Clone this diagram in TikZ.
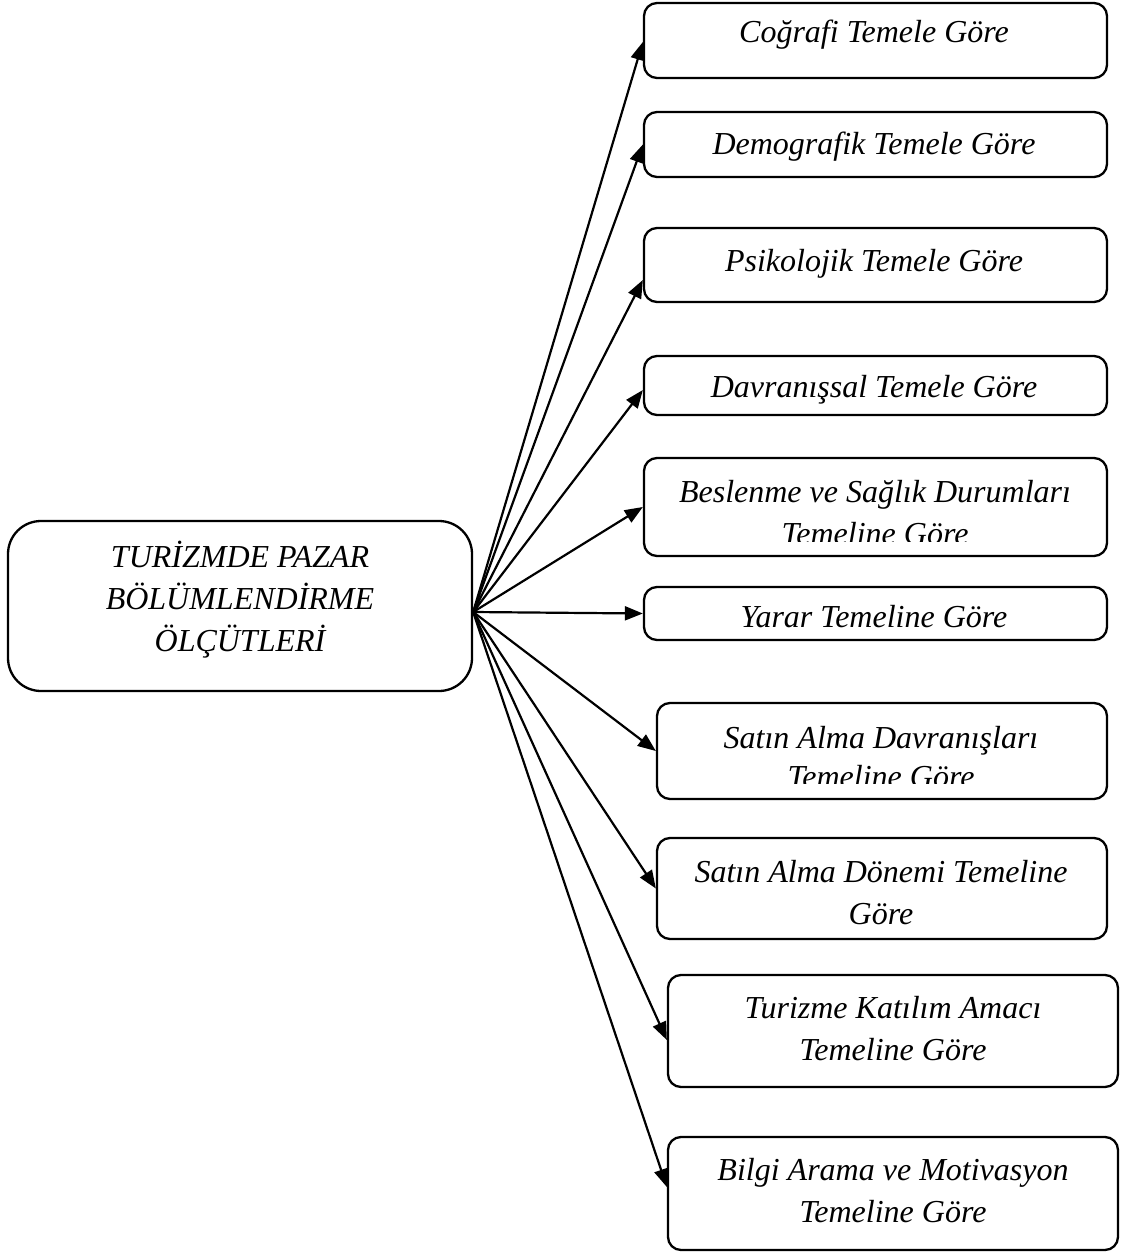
\documentclass[tikz,border=0pt]{standalone}
\usepackage{fontspec}
\setmainfont{Liberation Serif}
\usetikzlibrary{arrows.meta}
\begin{document}
\begin{tikzpicture}[x=0.5pt,y=-0.5pt,
  crit/.style={draw, line width=1.15pt, rounded corners=6.5pt, inner sep=0pt},
  rootbox/.style={draw, line width=1.15pt, rounded corners=16.5pt, inner sep=0pt,
    minimum width=232pt, minimum height=85pt},
  lbl/.style={anchor=base, inner sep=0pt,
    font=\fontsize{16}{21}\selectfont\itshape},
  link/.style={line width=1.1pt, -{Triangle[length=9pt,width=7pt]}}]
\useasboundingbox (0,0) rectangle (1122,1252);

% root box
\node[rootbox] (root) at (240,606) {};
\node[lbl] (rootlbl) at (240,567)
  {\begin{tabular}[t]{@{}c@{}}TURİZMDE PAZAR\\ BÖLÜMLENDİRME\\ ÖLÇÜTLERİ\end{tabular}};
\coordinate (hub) at ([yshift=-3pt]root.east);

% criterion boxes
\node[crit, minimum width=231.5pt, minimum height=37.5pt] (b1) at (875.5,40.5) {};
\node[crit, minimum width=231.5pt, minimum height=32.5pt] (b2) at (875.5,144.5) {};
\node[crit, minimum width=231.5pt, minimum height=37pt]   (b3) at (875.5,265) {};
\node[crit, minimum width=231.5pt, minimum height=29.5pt] (b4) at (875.5,385.5) {};
\node[crit, minimum width=231.5pt, minimum height=49pt]   (b5) at (875.5,507) {};
\node[crit, minimum width=231.5pt, minimum height=26.5pt] (b6) at (875.5,613.5) {};
\node[crit, minimum width=225pt,   minimum height=48pt]   (b7) at (882,751) {};
\node[crit, minimum width=225pt,   minimum height=50.5pt] (b8) at (882,888.5) {};
\node[crit, minimum width=225pt,   minimum height=56pt]   (b9) at (893,1031) {};
\node[crit, minimum width=225pt,   minimum height=56.5pt] (b10) at (893,1193.5) {};

% labels
\node[lbl] (t1) at (874,43) {Coğrafi Temele Göre};
\node[lbl] (t2) at (874,155) {Demografik Temele Göre};
\node[lbl] (t3) at (874,271) {Psikolojik Temele Göre};
\node[lbl] (t4) at (874,397) {Davranışsal Temele Göre};
\begin{scope}
  \clip (650,460) rectangle (1100,541);
  \node[lbl] (t5) at (875,502)
    {\begin{tabular}[t]{@{}c@{}}Beslenme ve Sağlık Durumları\\ Temeline Göre\end{tabular}};
\end{scope}
\node[lbl] (t6) at (874,627) {Yarar Temeline Göre};
\begin{scope}
  \clip (662,705) rectangle (1100,783);
  \node[lbl] (t7) at (881,748)
    {\begin{tabular}[t]{@{}c@{}}Satın Alma Davranışları\\[-1.5pt] Temeline Göre\end{tabular}};
\end{scope}
\node[lbl] (t8) at (881,882)
  {\begin{tabular}[t]{@{}c@{}}Satın Alma Dönemi Temeline\\ Göre\end{tabular}};
\node[lbl] (t9) at (893,1018)
  {\begin{tabular}[t]{@{}c@{}}Turizme Katılım Amacı\\ Temeline Göre\end{tabular}};
\node[lbl] (t10) at (893,1180)
  {\begin{tabular}[t]{@{}c@{}}Bilgi Arama ve Motivasyon\\ Temeline Göre\end{tabular}};

% connectors
\draw[link] (hub) -- ([yshift=-0.75pt]b1.west);
\draw[link] (hub) -- (b2.west);
\draw[link] (hub) -- ([yshift=-7.5pt]b3.west);
\draw[link] (hub) -- ([yshift=-2.25pt]b4.west);
\draw[link] (hub) -- (b5.west);
\draw[link] (hub) -- (b6.west);
\draw[link] (hub) -- (b7.west);
\draw[link] (hub) -- (b8.west);
\draw[link] (hub) -- ([yshift=-4.5pt]b9.west);
\draw[link] (hub) -- ([yshift=3.25pt]b10.west);
\end{tikzpicture}
\end{document}
